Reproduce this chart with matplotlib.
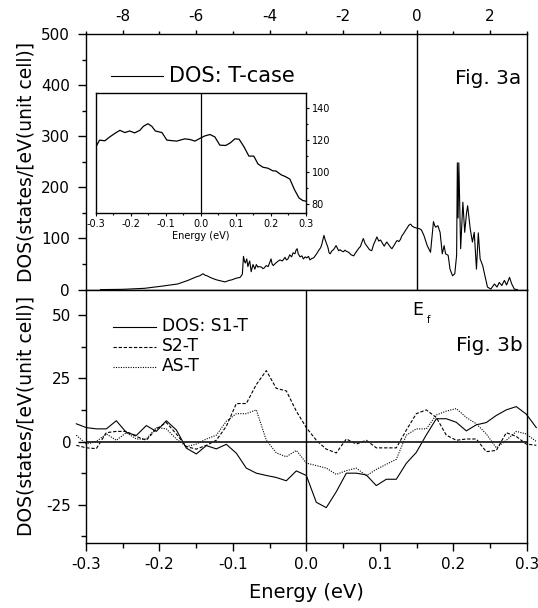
import numpy as np
import matplotlib
matplotlib.use("Agg")
import matplotlib.pyplot as plt
from matplotlib.ticker import MultipleLocator, FormatStrFormatter

plt.rcParams['font.family'] = ['DejaVu Sans']
plt.rcParams['axes.unicode_minus'] = False

# --- Fig. 3a: total DOS, T-case (energy in eV, DOS in states/eV/cell)
dos_e = [-8.60, -8.00, -7.40, -6.90, -6.50, -6.22, -5.99, -5.90, -5.81, -5.75,
         -5.70, -5.62, -5.52, -5.44, -5.33, -5.21, -5.10, -5.03, -4.92, -4.80,
         -4.74, -4.71, -4.68, -4.66, -4.62, -4.59, -4.57, -4.54, -4.50, -4.47,
         -4.45, -4.40, -4.36, -4.32, -4.29, -4.22, -4.18, -4.15, -4.09, -4.04,
         -4.00, -3.96, -3.93, -3.90, -3.83, -3.78, -3.72, -3.65, -3.58, -3.54,
         -3.50, -3.45, -3.40, -3.36, -3.31, -3.28, -3.25, -3.22, -3.17, -3.12,
         -3.08, -3.03, -2.99, -2.94, -2.90, -2.85, -2.80, -2.76, -2.72, -2.65,
         -2.61, -2.58, -2.52, -2.49, -2.46, -2.41, -2.38, -2.35, -2.30, -2.26,
         -2.19, -2.15, -2.12, -2.08, -2.05, -1.99, -1.95, -1.91, -1.85, -1.81,
         -1.78, -1.71, -1.66, -1.60, -1.56, -1.53, -1.49, -1.45, -1.40, -1.34,
         -1.28, -1.22, -1.17, -1.12, -1.08, -1.03, -0.98, -0.94, -0.88, -0.84,
         -0.81, -0.74, -0.70, -0.67, -0.60, -0.56, -0.53, -0.48, -0.44, -0.40,
         -0.35, -0.30, -0.26, -0.21, -0.16, -0.12, -0.07, 0.02, 0.08, 0.13,
         0.20, 0.29, 0.38, 0.46, 0.49, 0.52, 0.58, 0.64, 0.70, 0.75,
         0.79, 0.86, 0.91, 0.98, 1.04, 1.09, 1.11, 1.13, 1.15, 1.20,
         1.26, 1.31, 1.36, 1.39, 1.46, 1.52, 1.57, 1.63, 1.68, 1.73,
         1.80, 1.86, 1.93, 2.02, 2.12, 2.19, 2.25, 2.32, 2.39, 2.45,
         2.53, 2.59, 2.66, 2.74]
dos_t = [0, 0.5, 2.5, 7, 11, 18, 25, 27, 31, 28,
         27, 24, 21, 19, 17, 15, 18, 19, 22, 24,
         30, 65, 55, 52, 60, 45, 50, 56, 35, 44,
         49, 40, 49, 44, 45, 44, 41, 42, 47, 45,
         52, 60, 50, 47, 52, 55, 58, 56, 63, 58,
         60, 68, 64, 72, 70, 77, 80, 70, 64, 66,
         60, 64, 62, 65, 58, 61, 62, 66, 70, 78,
         82, 88, 106, 98, 92, 82, 72, 70, 76, 78,
         86, 80, 76, 78, 76, 74, 77, 75, 73, 70,
         68, 66, 72, 78, 82, 84, 92, 100, 90, 84,
         78, 76, 88, 96, 103, 95, 97, 92, 85, 90,
         93, 86, 82, 80, 88, 93, 96, 94, 98, 105,
         110, 116, 120, 126, 128, 124, 122, 120, 119, 117,
         106, 86, 73, 133, 126, 122, 125, 112, 70, 86,
         70, 67, 40, 27, 31, 67, 248, 140, 248, 80,
         171, 112, 150, 164, 119, 93, 112, 40, 111, 60,
         47, 27, 5, 1, 11, 5, 14, 8, 18, 9,
         24, 11, 1, 0]

# inset: zoom around E_f
ins_e = [-0.300, -0.289, -0.274, -0.260, -0.246, -0.231, -0.217, -0.203, -0.189, -0.174,
         -0.164, -0.151, -0.140, -0.130, -0.111, -0.097, -0.069, -0.046, -0.031, -0.017,
         0.000, 0.011, 0.026, 0.040, 0.054, 0.071, 0.084, 0.097, 0.109, 0.123,
         0.137, 0.151, 0.163, 0.177, 0.191, 0.206, 0.214, 0.229, 0.241, 0.254,
         0.267, 0.280, 0.291, 0.300]
ins_t = [115.5, 119.9, 119.5, 121.9, 124.0, 126.0, 124.6, 125.6, 124.4, 126.0,
         128.5, 130.1, 128.5, 125.6, 124.6, 119.9, 119.3, 120.7, 120.3, 119.3,
         121.3, 122.5, 123.4, 121.9, 116.8, 116.6, 118.2, 120.7, 120.5, 115.8,
         110.0, 110.0, 105.1, 103.1, 102.5, 100.8, 100.8, 98.4, 97.3, 95.7,
         89.2, 84.0, 82.4, 82.0]

# --- Fig. 3b: difference DOS on a 1 mRy grid
step_k = list(range(-23, 24))
s1_t = [7, 5.5, 5.0, 5.0, 8.2, 3.6, 2.4, 6.3, 4.0, 8.2, 4.6, -2.6, -4.9, -1.6, -2.9, -1.1,
        -4.6, -10.5, -12.5, -13.4, -14.2, -15.5, -11.6, -13.4,
        -24, -26.1, -19.8, -12.5, -12.5, -13.2, -17.4, -14.9, -14.9, -8.6, -4.3, 2.6,
        9.0, 9.0, 7.6, 4.2, 6.6, 7.5, 10.3, 12.5, 13.8, 10.8, 5.5]
s2_t = [-1.5, -2.5, -2.8, 3.5, 4.0, 4.0, 2.0, 0.5, 5.0, 7.5, 3.0, -2.0, -3.0, -1.5, 0.5, 6.0,
        15.0, 15.0, 22.5, 28.0, 21.0, 20.0, 12.0, 5.5,
        0.5, -3.0, -4.5, 1.0, -1.0, 0.5, -2.5, -2.5, -2.5, 4.5, 11.0, 12.5,
        9.5, 2.5, 0.5, 1.0, 1.0, -4.0, -3.5, 3.5, 2.0, -1.0, -1.5]
as_t = [2.5, -1.0, 0.0, 3.0, 0.5, 3.5, 1.0, 1.0, 5.5, 5.0, 1.0, -2.0, -1.0, 1.0, 2.5, 8.0,
        11.0, 11.0, 12.5, 0.5, -4.5, -6.0, -3.5, -8.5,
        -9.5, -10.5, -13.0, -11.5, -10.5, -13.5, -11.0, -9.0, -7.0, 2.5, 5.0, 5.0,
        10.5, 12.0, 13.0, 9.5, 7.0, 3.0, -2.5, 0.5, 4.0, 3.0, 0.0]
mry = 0.013605
e_b = np.array(step_k) * mry

ylab = "DOS(states/[eV(unit cell)]"

fig = plt.figure(figsize=(5.38, 6.08), dpi=100)
ax1 = fig.add_axes([0.1595, 0.5237, 0.8197, 0.4204])
ax2 = fig.add_axes([0.1595, 0.1072, 0.8197, 0.4165])
axi = fig.add_axes([0.1779, 0.6492, 0.3909, 0.1974])

for ax in (ax1, ax2, axi):
    for s in ax.spines.values():
        s.set_linewidth(1.0)

# top panel
ax1.plot(dos_e, dos_t, color='black', lw=0.8)
ax1.axvline(0, color='black', lw=1.0)
ax1.set_xlim(-9, 3)
ax1.set_ylim(0, 500)
ax1.xaxis.tick_top()
ax1.xaxis.set_major_locator(MultipleLocator(2))
ax1.xaxis.set_minor_locator(MultipleLocator(1))
ax1.yaxis.set_major_locator(MultipleLocator(100))
ax1.yaxis.set_minor_locator(MultipleLocator(50))
ax1.tick_params(axis='x', which='major', direction='out', length=3, width=1, pad=4,
                labelsize=11, top=True, bottom=False)
ax1.tick_params(axis='x', which='minor', direction='out', length=2, width=1,
                top=True, bottom=False)
ax1.tick_params(axis='y', which='major', direction='out', length=5.5, width=1, pad=6,
                labelsize=11, left=True, right=False)
ax1.tick_params(axis='y', which='minor', direction='out', length=3, width=1,
                left=True, right=False)
ax1.set_ylabel(ylab, fontsize=13.5)
ax1.yaxis.set_label_coords(-0.115, 0.5)
ax1.plot([0.058, 0.175], [0.836, 0.836], color='black', lw=0.8, transform=ax1.transAxes)
ax1.text(0.189, 0.811, "DOS: T-case", fontsize=15, transform=ax1.transAxes, va='baseline')
ax1.text(0.988, 0.804, "Fig. 3a", fontsize=14.5, transform=ax1.transAxes,
         ha='right', va='baseline')

# inset
axi.plot(ins_e, ins_t, color='black', lw=0.9)
axi.axvline(0, color='black', lw=0.9)
axi.set_xlim(-0.3, 0.3)
axi.set_ylim(74.5, 149)
axi.yaxis.tick_right()
axi.xaxis.set_major_locator(MultipleLocator(0.1))
axi.xaxis.set_minor_locator(MultipleLocator(0.05))
axi.xaxis.set_major_formatter(FormatStrFormatter('%.1f'))
axi.yaxis.set_major_locator(MultipleLocator(20))
axi.yaxis.set_minor_locator(MultipleLocator(10))
axi.tick_params(which='major', direction='out', length=2.5, width=0.8, pad=1.5, labelsize=7)
axi.tick_params(which='minor', direction='out', length=1.5, width=0.8)
axi.set_xlabel("Energy (eV)", fontsize=7)
axi.xaxis.set_label_coords(0.5, -0.15)

# bottom panel
ax2.plot(e_b, s1_t, color='black', lw=0.8, clip_on=False)
ax2.plot(e_b, s2_t, color='black', lw=0.8, linestyle=(0, (3, 1.6)), clip_on=False)
ax2.plot(e_b, as_t, color='black', lw=0.8, linestyle=(0, (1, 1.2)), clip_on=False)
ax2.axhline(0, color='#222222', lw=1.3)
ax2.axvline(0, color='black', lw=1.0)
ax2.set_xlim(-0.3, 0.3)
ax2.set_ylim(-40, 60)
ax2.set_xticks(np.arange(-0.3, 0.31, 0.1))
ax2.xaxis.set_minor_locator(MultipleLocator(0.05))
ax2.xaxis.set_major_formatter(FormatStrFormatter('%.1f'))
ax2.set_yticks([-25, 0, 25, 50])
ax2.set_yticks([-37.5, -12.5, 12.5, 37.5], minor=True)
ax2.tick_params(which='major', direction='out', length=5.5, width=1, pad=5, labelsize=11,
                top=False, right=False)
ax2.tick_params(which='minor', direction='out', length=3.5, width=1, top=False, right=False)
ax2.set_ylabel(ylab, fontsize=13.5)
ax2.yaxis.set_label_coords(-0.115, 0.5)
ax2.set_xlabel("Energy (eV)", fontsize=14)
ax2.xaxis.set_label_coords(0.5, -0.16)

leg_y = [(0.853, 0.838, '-', "DOS: S1-T"),
         (0.7745, 0.7575, (0, (3, 1.6)), "S2-T"),
         (0.693, 0.6785, (0, (1, 1.2)), "AS-T")]
for ly, ty, ls, name in leg_y:
    ax2.plot([0.0624, 0.159], [ly, ly], color='black', lw=0.8, linestyle=ls,
             transform=ax2.transAxes)
    ax2.text(0.172, ty, name, fontsize=12.3, transform=ax2.transAxes, va='baseline')

ax2.text(0.741, 0.900, "E", fontsize=12.5, transform=ax2.transAxes, va='baseline')
ax2.text(0.773, 0.868, "f", fontsize=7, transform=ax2.transAxes, va='baseline')
ax2.text(0.99, 0.757, "Fig. 3b", fontsize=14.5, transform=ax2.transAxes,
         ha='right', va='baseline')

fig.savefig("out.png", dpi=100)
